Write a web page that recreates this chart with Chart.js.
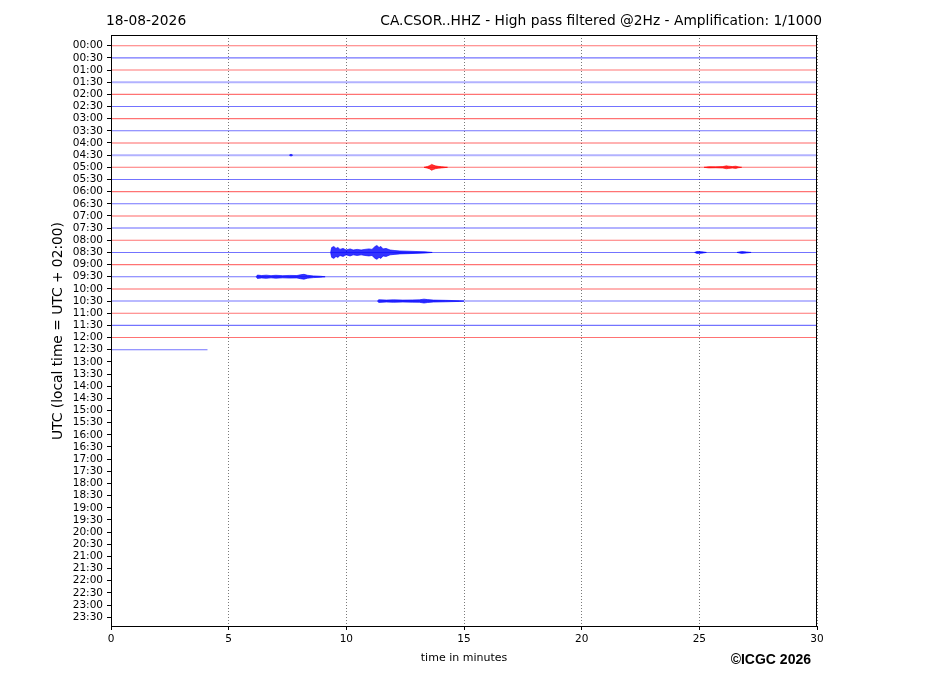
<!DOCTYPE html>
<html>
<head>
<meta charset="utf-8">
<script src="https://cdn.jsdelivr.net/npm/chart.js@4"></script>
<style>
  html, body { margin: 0; padding: 0; background: #fff; }
  #wrap { width: 927px; height: 696px; }
</style>
</head>
<body>
<div id="wrap"><canvas id="heli" width="927" height="696"></canvas></div>
<script>
// Half-hour rows (UTC), one trace per row
const rowLabels = [];
for (let h = 0; h < 24; h++) {
    const hh = String(h).padStart(2, '0');
    rowLabels.push(hh + ':00', hh + ':30');
}
const tracesRecorded = 26;      // 00:00 ... 12:30
const lastTraceEnd = 4.1;       // minutes recorded in the 12:30 row
const xTicks = [0, 5, 10, 15, 20, 25, 30];

// background noise level per recorded row (1 = quiet, 2 = noisier)
const rowNoise = [1, 1, 1, 2, 1, 1, 1, 1, 2, 2, 1, 1, 1,
                  1, 2, 2, 1, 1, 1, 1, 2, 1, 1, 1, 1, 1];

// signal envelopes: row index, [minute, half amplitude in row units]
const events = [
    { row: 9,  pts: [[7.58, 0], [7.65, 0.08], [7.72, 0]] },
    { row: 10, pts: [[13.3, 0], [13.45, 0.07], [13.55, 0.14], [13.62, 0.24], [13.7, 0.18], [13.78, 0.12], [13.9, 0.08], [14.05, 0.05], [14.3, 0]] },
    { row: 10, pts: [[25.2, 0], [25.4, 0.05], [25.7, 0.04], [26.0, 0.06], [26.15, 0.12], [26.25, 0.09], [26.4, 0.06], [26.55, 0.09], [26.65, 0.04], [26.8, 0]] },
    { row: 17, pts: [[9.33, 0], [9.38, 0.41], [9.47, 0.49], [9.56, 0.33], [9.64, 0.41], [9.73, 0.25], [9.86, 0.33], [9.99, 0.2],
                     [10.16, 0.29], [10.29, 0.2], [10.46, 0.25], [10.63, 0.2], [10.79, 0.25], [10.96, 0.29], [11.09, 0.25],
                     [11.22, 0.49], [11.3, 0.57], [11.39, 0.41], [11.47, 0.49], [11.56, 0.29], [11.69, 0.33], [11.86, 0.2],
                     [12.03, 0.16], [12.28, 0.12], [12.62, 0.1], [12.92, 0.08], [13.35, 0.05], [13.65, 0]] },
    { row: 17, pts: [[24.8, 0], [24.9, 0.08], [25.1, 0.06], [25.3, 0]] },
    { row: 17, pts: [[26.6, 0], [26.8, 0.08], [27.0, 0.04], [27.2, 0]] },
    { row: 19, pts: [[6.17, 0], [6.22, 0.14], [6.4, 0.1], [6.6, 0.13], [6.8, 0.09], [7.0, 0.12], [7.3, 0.09], [7.6, 0.11],
                     [7.9, 0.1], [8.05, 0.16], [8.2, 0.2], [8.35, 0.12], [8.6, 0.07], [8.9, 0.04], [9.1, 0]] },
    { row: 21, pts: [[11.32, 0], [11.38, 0.11], [11.7, 0.08], [12.0, 0.1], [12.4, 0.08], [12.8, 0.09], [13.1, 0.1],
                     [13.3, 0.16], [13.45, 0.12], [13.7, 0.08], [14.2, 0.06], [14.8, 0.03], [15.0, 0]] }
];

function rowColor(r, a) {
    return r % 2 === 0 ? 'rgba(255,0,0,' + a + ')' : 'rgba(0,0,255,' + a + ')';
}

const datasets = [];
for (let r = 0; r < tracesRecorded; r++) {
    const end = r === tracesRecorded - 1 ? lastTraceEnd : 30;
    const noisy = rowNoise[r] > 1;
    datasets.push({
        data: [{ x: 0, y: r }, { x: end, y: r }],
        borderColor: rowColor(r, noisy ? 0.3 : 0.55),
        borderWidth: noisy ? 2 : 1.1,
        pointRadius: 0,
        fill: false
    });
}
events.forEach(function (ev) {
    datasets.push({
        data: ev.pts.map(p => ({ x: p[0], y: ev.row - p[1] })),
        borderColor: rowColor(ev.row, 0.8),
        borderWidth: 0.8,
        pointRadius: 0,
        fill: false
    });
    datasets.push({
        data: ev.pts.map(p => ({ x: p[0], y: ev.row + p[1] })),
        borderColor: rowColor(ev.row, 0.8),
        borderWidth: 0.8,
        backgroundColor: rowColor(ev.row, 0.8),
        pointRadius: 0,
        fill: '-1'
    });
});

// texts and the full frame around the plot area
const decorations = {
    id: 'decorations',
    afterDraw(chart) {
        const ctx = chart.ctx;
        const a = chart.chartArea;
        ctx.save();
        ctx.strokeStyle = '#000';
        ctx.lineWidth = 1;
        ctx.strokeRect(a.left + 0.5, a.top + 0.5, a.right - a.left - 1, a.bottom - a.top);
        ctx.fillStyle = '#000';
        ctx.textBaseline = 'alphabetic';
        ctx.font = '13.8px "DejaVu Sans"';
        ctx.textAlign = 'left';
        ctx.fillText('18-08-2026', 106, 25);
        ctx.textAlign = 'right';
        ctx.fillText('CA.CSOR..HHZ - High pass filtered @2Hz - Amplification: 1/1000', 822, 25);
        ctx.textAlign = 'center';
        ctx.font = '11px "DejaVu Sans"';
        ctx.fillText('time in minutes', 464, 661);
        ctx.font = 'bold 14px "Liberation Sans"';
        ctx.textAlign = 'right';
        ctx.fillText('\u00A9ICGC 2026', 811, 664);
        ctx.translate(62, 331);
        ctx.rotate(-Math.PI / 2);
        ctx.textAlign = 'center';
        ctx.font = '13.8px "DejaVu Sans"';
        ctx.fillText('UTC (local time = UTC + 02:00)', 0, 0);
        ctx.restore();
    }
};

new Chart(document.getElementById('heli'), {
    type: 'line',
    data: { datasets: datasets },
    options: {
        responsive: false,
        animation: false,
        layout: { padding: { top: 35, right: 110, bottom: 0, left: 0 } },
        plugins: { legend: { display: false }, tooltip: { enabled: false } },
        scales: {
            x: {
                type: 'linear',
                min: 0,
                max: 30,
                afterFit: s => { s.height = 70; },
                afterBuildTicks: s => { s.ticks = xTicks.map(v => ({ value: v })); },
                ticks: { color: '#000', font: { family: 'DejaVu Sans', size: 10.5 }, padding: 3, maxRotation: 0 },
                grid: {
                    color: 'rgba(0,0,0,0.75)',
                    lineWidth: 0.7,
                    tickLength: 4,
                    tickColor: '#000',
                    tickWidth: 1,
                    tickBorderDash: []
                },
                border: { display: false, dash: [1, 2] }
            },
            y: {
                type: 'linear',
                reverse: true,
                min: -0.88,
                max: 47.72,
                afterFit: s => { s.width = 111; },
                afterBuildTicks: s => { s.ticks = rowLabels.map((l, i) => ({ value: i })); },
                ticks: {
                    color: '#000',
                    font: { family: 'DejaVu Sans', size: 10.5 },
                    padding: 4,
                    autoSkip: false,
                    callback: (v) => rowLabels[v]
                },
                grid: { drawOnChartArea: false, tickLength: 4, tickColor: '#000', tickWidth: 1 },
                border: { display: false }
            }
        }
    },
    plugins: [decorations]
});
</script>
</body>
</html>
